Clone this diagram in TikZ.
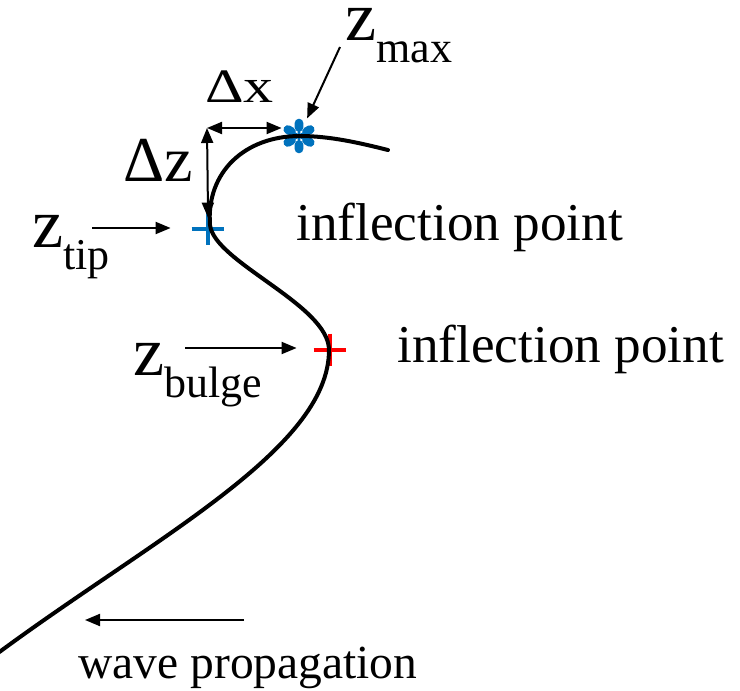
\documentclass[tikz,border=0pt]{standalone}
\usepackage{fontspec}
\setmainfont{Liberation Serif}
\usepackage{graphicx}
\usepackage{xcolor}
\usepackage{tikz}
\usetikzlibrary{arrows.meta,calc}
\definecolor{markblue}{RGB}{0,114,189}
\newcommand{\zsub}[1]{{\fontsize{35}{35}\selectfont z}\raisebox{-11pt}{\fontsize{22}{22}\selectfont #1}}

\begin{document}
\begin{tikzpicture}[
    x=0.5pt,y=-0.5pt,
    front/.style={line width=2pt,line cap=round},
    pointer/.style={-{Triangle[length=7.5pt,width=6pt]},line width=1pt},
    twoway/.style={{Triangle[length=7.5pt,width=6pt]}-{Triangle[length=7.5pt,width=6pt]},
      line width=1pt},
    lbl/.style={anchor=base west,inner sep=0pt},
    big/.style={font=\fontsize{26.6}{27}\selectfont},
    marker/.style={circle,inner sep=0pt,minimum size=16pt},
    cross/.style={line width=1.6pt}
  ]
    \useasboundingbox (0,0) rectangle (740,691);

    % marker points
    \node[marker] (tip) at (208,229) {};
    \node[marker] (bulge) at (330,350) {};
    \node[marker,minimum size=17pt] (top) at (299,136) {};
    \draw[cross,markblue] (tip.west) -- (tip.east) (tip.north) -- (tip.south);
    \draw[cross,red] (bulge.west) -- (bulge.east) (bulge.north) -- (bulge.south);
    \foreach \a in {30,90,...,330} {
      \draw[markblue,line width=1.3pt] (top.center) -- ($(top.center)!0.7!(top.\a)$);
      \draw[markblue,line width=4.4pt,line cap=round]
        ($(top.center)!0.5!(top.\a)$) -- ($(top.center)!0.74!(top.\a)$);
    }

    % wave front
    \draw[front] (-6,656) .. controls (150,540) and (329,450) .. (329,350)
      .. controls (329,305) and (214,262) .. (210,225)
      .. controls (206,172) and (245,136) .. (300,136)
      .. controls (330,136) and (360,143) .. (388,150);

    % labels
    \node[lbl] (maxlbl) at (345,40) {\zsub{max}};
    \node[lbl] (tiplbl) at (32,247) {\zsub{tip}};
    \node[lbl] (bulgelbl) at (133,375) {\zsub{bulge}};
    \node[lbl,font=\fontsize{32}{32}\selectfont] (dzlbl) at (123,181) {Δz};
    \node[lbl] (dxlbl) at (205,102) {\scalebox{1}[0.8]{\fontsize{30}{30}\selectfont Δx}};
    \node[lbl,big] (infl1) at (296,240) {inflection point};
    \node[lbl,big] (infl2) at (397,362) {inflection point};
    \node[lbl,font=\fontsize{23.75}{24}\selectfont] (wavelbl) at (78,678) {wave propagation};

    % arrows
    \coordinate (maxtail) at (340,47);
    \coordinate (tiptail) at (92,228);
    \coordinate (bulgetail) at (185,348);
    \coordinate (corner) at (207,128);
    \coordinate (wavetail) at (244,620);
    \coordinate (wavehead) at (85,620);
    \draw[pointer,shorten >=1pt] (maxtail) -- (top);
    \draw[pointer,shorten >=10.5pt] (tiptail) -- (tiptail -| tip.west);
    \draw[pointer,shorten >=8.5pt] (bulgetail) -- (bulgetail -| bulge.west);
    \draw[twoway] (corner) -- (corner -| top.west);
    \draw[twoway,shorten >=-2.5pt] (corner) -- (tip.north);
    \draw[pointer] (wavetail) -- (wavehead);
  \end{tikzpicture}
\end{document}
